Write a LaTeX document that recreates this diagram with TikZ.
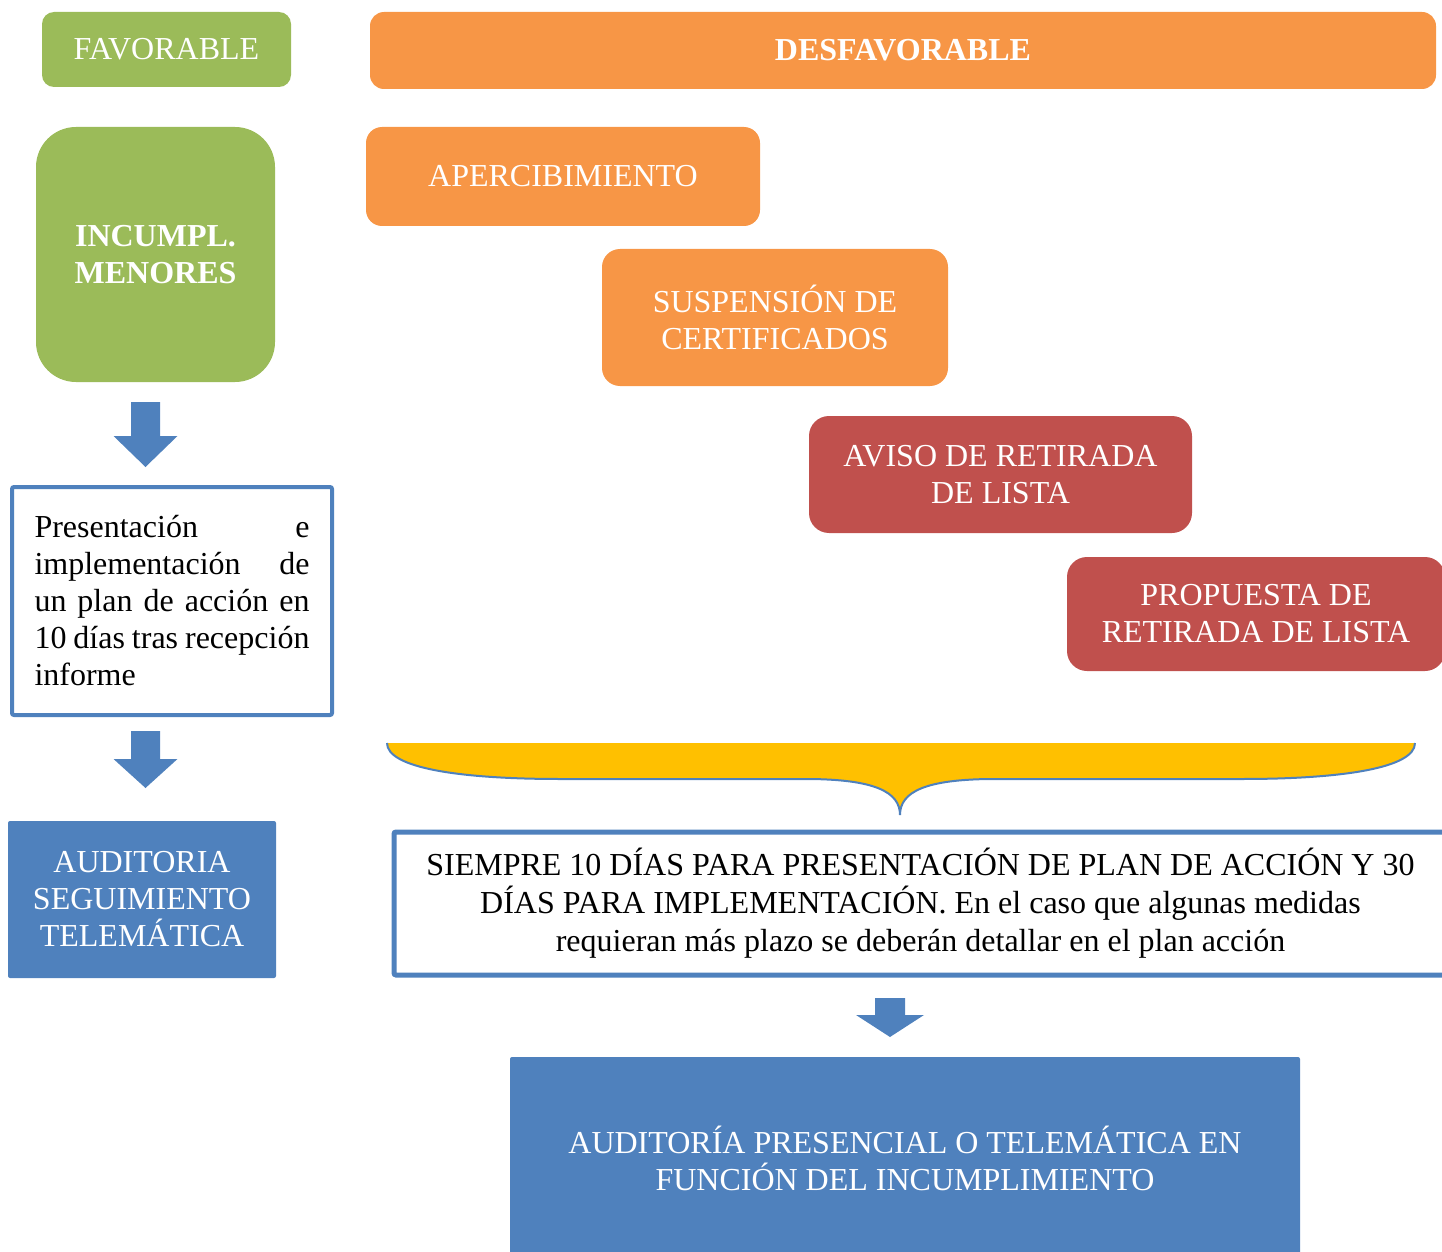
\documentclass[tikz,border=0pt]{standalone}
\usepackage{fontspec}
\setmainfont{Liberation Serif}
\definecolor{cgreen}{HTML}{9BBB59}
\definecolor{corange}{HTML}{F79646}
\definecolor{cred}{HTML}{C0504D}
\definecolor{cblue}{HTML}{4F81BD}
\definecolor{cyellow}{HTML}{FFC000}
% down block arrow: #1 cx, #2 top y, #3 head start y, #4 tip y, #5 shaft half width, #6 head half width
\newcommand\dnarrow[6]{%
  \fill[cblue] ({#1-#5},#2) -- ({#1+#5},#2) -- ({#1+#5},#3) -- ({#1+#6},#3)
    -- (#1,#4) -- ({#1-#6},#3) -- ({#1-#5},#3) -- cycle;}
\begin{document}
\begin{tikzpicture}[x=0.5pt,y=-0.5pt,
  txt/.style={inner sep=0pt, align=center, font=\fontsize{16}{18.5}\selectfont},
  cbox/.style={txt, rounded corners=#1, text=white},
  obox/.style={txt, draw=cblue, fill=white, text=black, rounded corners=1pt}]
\useasboundingbox (0,0) rectangle (1442,1252);
\clip (0,0) rectangle (1442,1252);

% header boxes
\node[cbox=6pt, fill=cgreen, minimum width=124.5pt, minimum height=37.5pt] (fav) at (166.5,49.5) {FAVORABLE};
\node[cbox=7pt, fill=corange, minimum width=533pt, minimum height=38.5pt, font=\fontsize{16}{18.5}\selectfont\bfseries] (desf) at (903,50.5) {DESFAVORABLE};

% left column
\node[cbox=20pt, fill=cgreen, minimum width=119.5pt, minimum height=127.5pt, font=\fontsize{16}{18.5}\selectfont\bfseries] (inc) at (155.5,254.5) {INCUMPL.\\MENORES};
\node[obox, line width=2pt, minimum width=160pt, minimum height=114pt, align=left] (pres) at (172,601) {%
  \makebox[137.5pt][s]{Presentación\hfill e}\\
  \makebox[137.5pt][s]{implementación\hfill de}\\
  \makebox[137.5pt][s]{un plan de acción en}\\
  \makebox[137.5pt][s]{10 días tras recepción}\\
  \makebox[137.5pt][l]{informe}};
\node[cbox=1pt, fill=cblue, minimum width=134pt, minimum height=78.5pt] (aud) at (142,899.5) {AUDITORIA\\SEGUIMIENTO\\TELEMÁTICA};

\coordinate (a1) at (145.5,402);
\coordinate (a2) at (145.5,731);
\dnarrow{145.5}{402}{436}{467}{14.5}{32}
\dnarrow{145.5}{731}{759}{788}{14.5}{32}

% staircase of sanctions
\node[cbox=8pt, fill=corange, minimum width=197pt, minimum height=49.5pt] (aper) at (563,176.5) {APERCIBIMIENTO};
\node[cbox=9pt, fill=corange, minimum width=173pt, minimum height=68.5pt] (susp) at (775,317.5) {SUSPENSIÓN DE\\CERTIFICADOS};
\node[cbox=10pt, fill=cred, minimum width=191.5pt, minimum height=58.5pt] (aviso) at (1000.5,474.5) {AVISO DE RETIRADA\\DE LISTA};
\node[cbox=10pt, fill=cred, minimum width=189pt, minimum height=57pt] (prop) at (1256,614) {PROPUESTA DE\\RETIRADA DE LISTA};

% brace
\fill[cyellow] (387,743) .. controls (387,768) and (460,779) .. (560,779) -- (805,779)
  .. controls (875,779) and (900,792) .. (900,815)
  .. controls (900,792) and (925,779) .. (995,779) -- (1242,779)
  .. controls (1342,779) and (1415,768) .. (1415,743) -- cycle;
\draw[cblue, line width=1pt] (387,743) .. controls (387,768) and (460,779) .. (560,779) -- (805,779)
  .. controls (875,779) and (900,792) .. (900,815)
  .. controls (900,792) and (925,779) .. (995,779) -- (1242,779)
  .. controls (1342,779) and (1415,768) .. (1415,743);

\node[obox, line width=2.5pt, minimum width=526.5pt, minimum height=71.5pt, font=\fontsize{16}{19}\selectfont] (siem) at (920.5,903.5) {%
  SIEMPRE 10 DÍAS PARA PRESENTACIÓN DE PLAN DE ACCIÓN Y 30\\
  DÍAS PARA IMPLEMENTACIÓN. En el caso que algunas medidas\\
  requieran más plazo se deberán detallar en el plan acción};

\dnarrow{890}{998}{1015}{1037}{15}{34}

\node[cbox=1pt, fill=cblue, minimum width=395pt, minimum height=101.5pt] (audp) at (905,1158.5) {AUDITORÍA PRESENCIAL O TELEMÁTICA EN\\FUNCIÓN DEL INCUMPLIMIENTO};
\end{tikzpicture}
\end{document}
